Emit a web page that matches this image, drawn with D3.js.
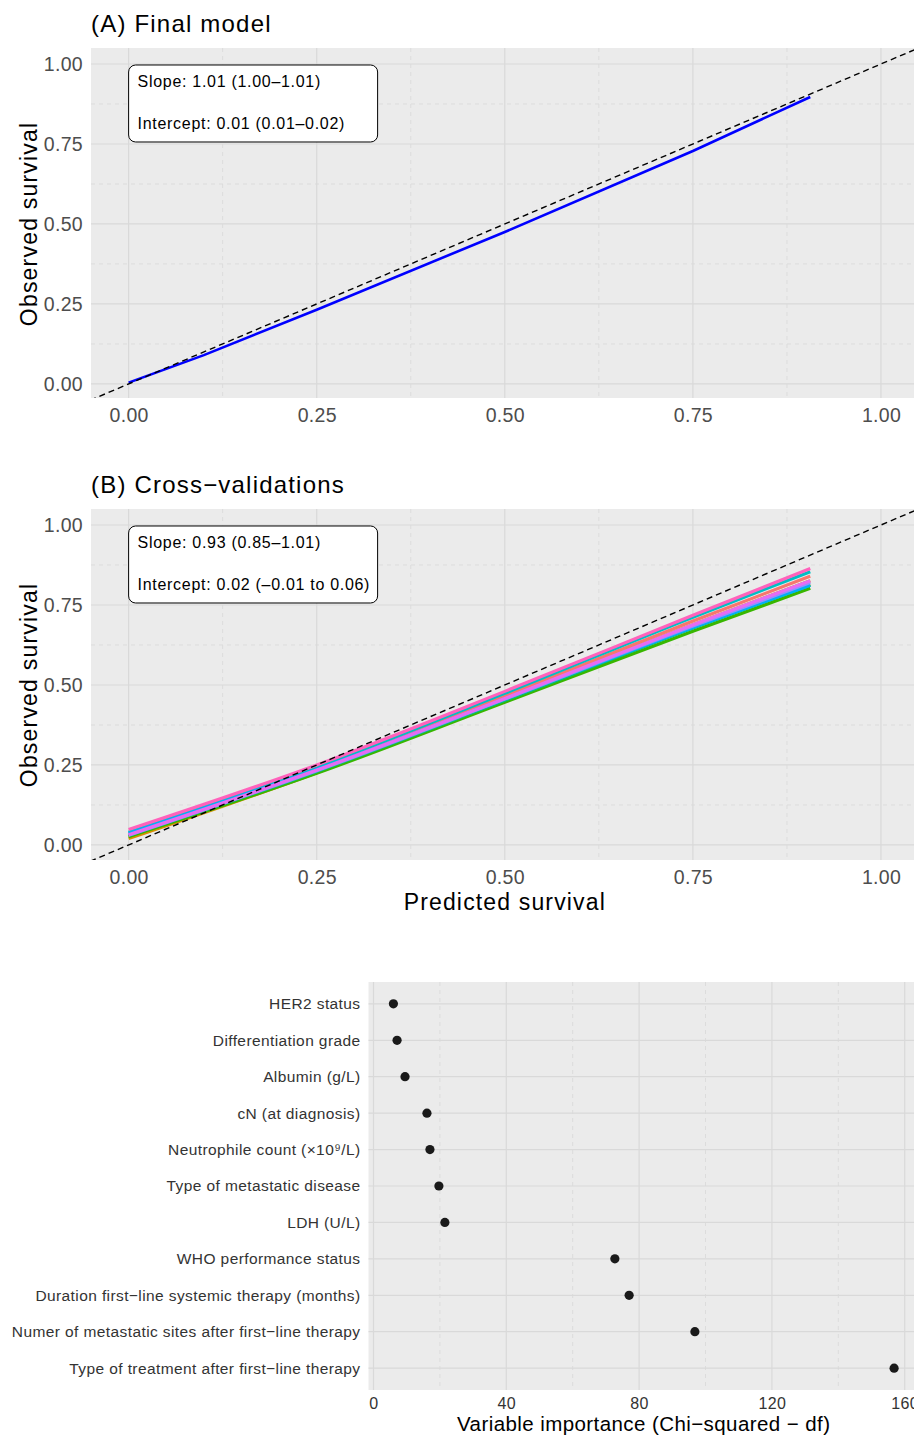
<!DOCTYPE html>
<html>
<head>
<meta charset="utf-8">
<script src="https://cdn.jsdelivr.net/npm/d3@7"></script>
<style>
  body { margin: 0; background: #fff; }
  svg { display: block; font-family: "Liberation Sans", Arial, Helvetica, sans-serif; }
</style>
</head>
<body>
<div id="chart"></div>
<script>
// calibration axes
const calTicks = [0, 0.25, 0.5, 0.75, 1];
const calMinor = [0.125, 0.375, 0.625, 0.875];

// (A) final model calibration line
const finalX = [0, 0.1, 0.25, 0.5, 0.75, 0.906];
const finalY = [0.004, 0.09, 0.232, 0.475, 0.728, 0.897];

// (B) cross-validation folds, one row per fold
const cvX = [0, 0.25, 0.5, 0.75, 0.906];
const cvFolds = [
  [0.034, 0.238, 0.466, 0.700, 0.840],
  [0.020, 0.226, 0.456, 0.688, 0.826],
  [0.028, 0.230, 0.452, 0.680, 0.814],
  [0.026, 0.224, 0.446, 0.668, 0.802],
  [0.030, 0.230, 0.452, 0.678, 0.812],
  [0.040, 0.244, 0.474, 0.712, 0.854],
  [0.037, 0.236, 0.456, 0.680, 0.812],
  [0.030, 0.232, 0.456, 0.684, 0.820],
  [0.032, 0.234, 0.458, 0.688, 0.826],
  [0.048, 0.250, 0.480, 0.718, 0.864]
];
const cvColors = ['#F8766D', '#D89000', '#A3A500', '#39B600', '#00BF7D',
                  '#00BFC4', '#00B0F6', '#9590FF', '#E76BF3', '#FF62BC'];

// annotation texts
const slopeA = 'Slope: 1.01 (1.00\u20131.01)';
const interceptA = 'Intercept: 0.01 (0.01\u20130.02)';
const slopeB = 'Slope: 0.93 (0.85\u20131.01)';
const interceptB = 'Intercept: 0.02 (\u20130.01 to 0.06)';

// (C) variable importance
const varNames = [
  'HER2 status',
  'Differentiation grade',
  'Albumin (g/L)',
  'cN (at diagnosis)',
  'Neutrophile count (\u00d710\u2079/L)',
  'Type of metastatic disease',
  'LDH (U/L)',
  'WHO performance status',
  'Duration first\u2212line systemic therapy (months)',
  'Numer of metastatic sites after first\u2212line therapy',
  'Type of treatment after first\u2212line therapy'
];
const varImportance = [6.0, 7.1, 9.5, 16.1, 17.0, 19.7, 21.5, 72.7, 77.0, 96.8, 156.8];
const impTicks = [0, 40, 80, 120, 160];
const impMinor = [20, 60, 100, 140];

const W = 914, H = 1439;
const bg = '#EBEBEB', gridCol = '#D9D9D9', minorCol = '#DCDCDC';
const fontFam = '"Liberation Sans", Arial, sans-serif';

const svg = d3.select('#chart').append('svg')
  .attr('width', W).attr('height', H);

svg.append('rect').attr('width', W).attr('height', H).attr('fill', '#fff');

// style axis tick labels
function styleTicks(sel, size, ls, col) {
  sel.select('.domain').remove();
  sel.selectAll('text')
    .attr('font-size', size)
    .attr('letter-spacing', ls)
    .attr('fill', col)
    .attr('font-family', fontFam);
}

// draw one calibration panel
function calPanel(id, top, bottom, yMin, title, slope, intercept, showXTitle) {
  const x = d3.scaleLinear().domain([-0.05, 1.05]).range([91, 918.6]),
    y = d3.scaleLinear().domain([yMin, 1.05]).range([bottom, top]),
    g = svg.append('g');

  g.append('clipPath').attr('id', id)
    .append('rect')
    .attr('x', 91).attr('y', top)
    .attr('width', W - 91).attr('height', bottom - top);

  g.append('rect')
    .attr('x', 91).attr('y', top)
    .attr('width', W - 91).attr('height', bottom - top)
    .attr('fill', bg);

  const grid = g.append('g').attr('clip-path', 'url(#' + id + ')');
  // minor dashed grid
  calMinor.forEach(v => {
    grid.append('line').attr('x1', 91).attr('x2', W).attr('y1', y(v)).attr('y2', y(v))
      .attr('stroke', minorCol).attr('stroke-width', 1).attr('stroke-dasharray', '4,4');
    grid.append('line').attr('y1', top).attr('y2', bottom).attr('x1', x(v)).attr('x2', x(v))
      .attr('stroke', minorCol).attr('stroke-width', 1).attr('stroke-dasharray', '4,4');
  });
  // major grid
  calTicks.forEach(v => {
    grid.append('line').attr('x1', 91).attr('x2', W).attr('y1', y(v)).attr('y2', y(v))
      .attr('stroke', gridCol).attr('stroke-width', 1.2);
    grid.append('line').attr('y1', top).attr('y2', bottom).attr('x1', x(v)).attr('x2', x(v))
      .attr('stroke', gridCol).attr('stroke-width', 1.2);
  });

  // axes
  g.append('g').attr('transform', 'translate(83,0)')
    .call(d3.axisLeft(y).tickValues(calTicks).tickFormat(d3.format('.2f')).tickSize(0).tickPadding(0))
    .call(s => styleTicks(s, 19.5, 0.3, '#4D4D4D'));

  g.append('g').attr('transform', 'translate(0,' + (bottom + 10) + ')')
    .call(d3.axisBottom(x).tickValues(calTicks).tickFormat(d3.format('.2f')).tickSize(0).tickPadding(0))
    .call(s => styleTicks(s, 19.5, 0.3, '#4D4D4D'));

  g.append('text')
    .attr('x', 91).attr('y', top - 16)
    .attr('font-size', 24).attr('letter-spacing', 1.2).attr('fill', '#000')
    .text(title);

  g.append('text')
    .attr('transform', 'translate(37,' + y(0.5) + ') rotate(-90)')
    .attr('text-anchor', 'middle')
    .attr('font-size', 23).attr('letter-spacing', 1.2).attr('fill', '#000')
    .text('Observed survival');

  if (showXTitle) {
    g.append('text')
      .attr('x', x(0.5)).attr('y', bottom + 50)
      .attr('text-anchor', 'middle')
      .attr('font-size', 23).attr('letter-spacing', 1.15).attr('fill', '#000')
      .text('Predicted survival');
  }

  // label box
  const bx = x(0), by = y(1) + 1;
  g.append('rect')
    .attr('x', bx).attr('y', by)
    .attr('width', 249).attr('height', 77)
    .attr('rx', 7).attr('ry', 7)
    .attr('fill', '#fff').attr('stroke', '#000').attr('stroke-width', 1);
  g.append('text').attr('x', bx + 9).attr('y', by + 22)
    .attr('font-size', 16).attr('letter-spacing', 0.7).attr('fill', '#000').text(slope);
  g.append('text').attr('x', bx + 9).attr('y', by + 64)
    .attr('font-size', 16).attr('letter-spacing', 0.7).attr('fill', '#000').text(intercept);

  return { x, y, layer: g.append('g').attr('clip-path', 'url(#' + id + ')') };
}

// ---- Panel A ----
const pA = calPanel('clipA', 48, 398, -0.044, '(A) Final model', slopeA, interceptA, false);
const lineA = d3.line().x((d, i) => pA.x(finalX[i])).y(d => pA.y(d));
pA.layer.append('path')
  .datum(finalY)
  .attr('d', lineA)
  .attr('fill', 'none').attr('stroke', '#0000FF').attr('stroke-width', 2.6);
pA.layer.append('line')
  .attr('x1', pA.x(-0.1)).attr('y1', pA.y(-0.1))
  .attr('x2', pA.x(1.1)).attr('y2', pA.y(1.1))
  .attr('stroke', '#000').attr('stroke-width', 1.4).attr('stroke-dasharray', '6,4');

// ---- Panel B ----
const pB = calPanel('clipB', 509, 860, -0.047, '(B) Cross\u2212validations', slopeB, interceptB, true);
const lineB = d3.line().curve(d3.curveMonotoneX).x((d, i) => pB.x(cvX[i])).y(d => pB.y(d));
pB.layer.selectAll('path.fold')
  .data(cvFolds)
  .enter().append('path')
  .attr('class', 'fold')
  .attr('d', lineB)
  .attr('fill', 'none')
  .attr('stroke', (d, i) => cvColors[i])
  .attr('stroke-width', 3.2);
pB.layer.append('line')
  .attr('x1', pB.x(-0.1)).attr('y1', pB.y(-0.1))
  .attr('x2', pB.x(1.1)).attr('y2', pB.y(1.1))
  .attr('stroke', '#000').attr('stroke-width', 1.4).attr('stroke-dasharray', '6,4');

// ---- Panel C ----
const cTop = 982, cBottom = 1390, cLeft = 368.5;
const xC = d3.scaleLinear().domain([-1.5, 164.3]).range([cLeft, 919]),
  yC = d3.scalePoint().domain(varNames).range([cTop, cBottom]).padding(0.6);

const gC = svg.append('g');
gC.append('rect')
  .attr('x', cLeft).attr('y', cTop)
  .attr('width', W - cLeft).attr('height', cBottom - cTop)
  .attr('fill', bg);

impMinor.forEach(v => {
  gC.append('line').attr('x1', xC(v)).attr('x2', xC(v)).attr('y1', cTop).attr('y2', cBottom)
    .attr('stroke', minorCol).attr('stroke-dasharray', '4,4');
});
impTicks.forEach(v => {
  gC.append('line').attr('x1', xC(v)).attr('x2', xC(v)).attr('y1', cTop).attr('y2', cBottom)
    .attr('stroke', gridCol).attr('stroke-width', 1.2);
});
varNames.forEach(v => {
  gC.append('line').attr('x1', cLeft).attr('x2', W).attr('y1', yC(v)).attr('y2', yC(v))
    .attr('stroke', gridCol).attr('stroke-width', 1.2);
});

gC.append('g').attr('transform', 'translate(' + (cLeft - 8) + ',0)')
  .call(d3.axisLeft(yC).tickSize(0).tickPadding(0))
  .call(s => styleTicks(s, 15.5, 0.4, '#333'));

gC.append('g').attr('transform', 'translate(0,' + (cBottom + 8) + ')')
  .call(d3.axisBottom(xC).tickValues(impTicks).tickSize(0).tickPadding(0))
  .call(s => styleTicks(s, 16, 0.4, '#333'));

gC.append('text')
  .attr('x', (cLeft + 919) / 2).attr('y', 1431)
  .attr('text-anchor', 'middle')
  .attr('font-size', 20.5).attr('letter-spacing', 0.42).attr('fill', '#000')
  .text('Variable importance (Chi\u2212squared \u2212 df)');

gC.selectAll('circle.pt')
  .data(varImportance)
  .enter().append('circle')
  .attr('class', 'pt')
  .attr('cx', d => xC(d))
  .attr('cy', (d, i) => yC(varNames[i]))
  .attr('r', 4.6)
  .attr('fill', '#1A1A1A');
</script>
</body>
</html>
